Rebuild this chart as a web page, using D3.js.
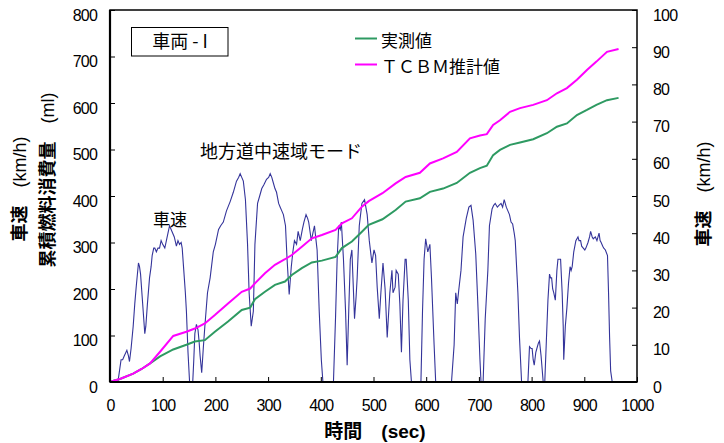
<!DOCTYPE html>
<html>
<head>
<meta charset="utf-8">
<script src="https://cdn.jsdelivr.net/npm/d3@7"></script>
<style>
  body { margin: 0; background: #fff; }
  svg text { font-family: "Liberation Sans", Arial, "Noto Sans CJK JP", sans-serif; }
  .jp { font-family: "Noto Sans CJK JP", sans-serif; }
</style>
</head>
<body>
<div id="chart"></div>
<script>
// Time axis for the cumulative fuel curves (sec)
const fuelTime = [0, 20, 44, 60, 76, 95, 120, 145, 161, 180, 199, 224, 250, 266, 275, 294, 313, 332, 345, 364,
  383, 402, 428, 440, 459, 478, 491, 517, 542, 561, 588, 607, 632, 658, 683, 702, 715, 727, 740, 759,
  778, 803, 829, 848, 867, 886, 905, 923, 943, 965];
// Measured cumulative fuel (ml)
const measuredFuel = [0, 7, 18, 28, 40, 55, 70, 80, 87, 90, 108, 130, 155, 160, 178, 194, 209, 216, 230, 245,
  257, 261, 269, 288, 302, 323, 338, 350, 370, 388, 395, 409, 416, 428, 450, 460, 465, 488, 499, 510,
  515, 522, 535, 549, 556, 574, 585, 596, 606, 611];
// TCBM estimated cumulative fuel (ml)
const tcbmFuel = [0, 7, 18, 28, 40, 65, 99, 108, 115, 126, 144, 169, 194, 201, 212, 234, 252, 264, 273, 291,
  309, 316, 327, 341, 352, 377, 389, 406, 427, 441, 450, 470, 481, 495, 524, 530, 533, 553, 563, 581,
  589, 596, 606, 621, 632, 650, 671, 689, 710, 716];

// Vehicle speed trace (sec, km/h)
const speedTime = [0, 8, 15, 18, 21, 24, 27, 32, 35, 37, 40, 44, 47, 50, 54, 56, 58, 61, 63, 66,
  68, 71, 75, 78, 80, 83, 85, 88, 91, 94, 97, 100, 104, 107, 110, 113, 116, 119, 122, 126,
  129, 132, 135, 137, 140, 143, 145, 148, 151, 157, 159, 161, 164, 167, 169, 171, 174, 177, 180, 185,
  190, 196, 200, 206, 210, 215, 221, 228, 234, 240, 244, 247, 250, 253, 257, 261, 264, 268, 272, 275,
  280, 284, 288, 292, 297, 301, 304, 307, 310, 313, 316, 320, 323, 326, 329, 333, 336, 340, 344, 347,
  350, 354, 357, 361, 365, 368, 372, 375, 377, 380, 382, 385, 388, 391, 393, 397, 401, 404, 424, 428,
  431, 434, 437, 439, 441, 443, 447, 450, 453, 456, 459, 461, 464, 467, 469, 473, 478, 483, 488, 492,
  497, 501, 504, 507, 511, 514, 518, 522, 526, 531, 535, 537, 541, 543, 547, 550, 553, 556, 560, 562,
  566, 569, 572, 590, 593, 596, 599, 603, 607, 610, 615, 618, 648, 653, 656, 659, 662, 666, 670, 676,
  681, 685, 689, 694, 698, 702, 704, 708, 712, 717, 720, 725, 728, 731, 735, 738, 742, 745, 748, 752,
  755, 758, 761, 764, 767, 769, 774, 777, 781, 793, 796, 799, 801, 803, 805, 808, 810, 813, 815, 818,
  822, 825, 828, 831, 834, 836, 838, 840, 842, 845, 848, 850, 855, 858, 860, 861, 864, 867, 870, 873,
  875, 877, 880, 884, 888, 890, 893, 895, 898, 901, 903, 907, 910, 912, 915, 917, 921, 924, 926, 928,
  930, 932, 935, 937, 940, 944, 946, 948, 950, 953, 960];
const speed = [0, 0.5, 0, 3, 6, 6, 7, 8.5, 7, 5.5, 9, 15, 21, 26, 32, 31, 29, 23, 19, 13,
  15, 21, 28, 31, 34, 36, 36, 35, 36, 36, 38, 37, 36, 38, 40, 42, 41, 40, 39, 36.5,
  38, 37, 37.5, 36, 30, 24, 19, 8, 0, 0, 6, 13, 15.5, 14, 11, 7, 2.5, 9, 15, 24,
  28, 35, 37, 41, 42, 43, 46, 48.5, 51, 54, 55, 56, 55, 54, 49, 37, 24, 15, 19, 37,
  48, 50, 52, 53, 54.5, 55, 56, 55, 53.5, 52, 51, 48, 47, 46, 45, 42, 33, 23.5, 31, 35,
  38, 37, 40.5, 38, 41, 43, 45, 44, 43, 40, 38, 40, 42, 38, 35.5, 19, 6, 0, 0, 17.5,
  33, 42, 41, 43, 38, 33, 19, 4.5, 19, 33, 35.5, 28, 17, 23, 28, 42, 48, 49, 45, 38,
  32, 35.5, 34, 25.5, 17, 24, 32, 25, 12, 24, 30, 24, 25.5, 30, 29, 21, 8, 22, 33, 33,
  22, 6, 0, 0, 19, 33, 38.5, 35, 37, 28, 10, 0, 0, 10, 24, 21, 25, 30, 39, 44,
  47, 47.5, 43.5, 34.5, 21, 6, 0, 0, 17, 30, 42, 46.5, 47.5, 48, 47, 47.5, 48, 47, 49, 47,
  46, 45, 43, 42.5, 40, 38, 24, 12, 0, 0, 9.5, 9, 9, 6, 4.5, 8, 9, 10.5, 11, 7,
  0, 0, 11, 22, 29, 28, 28, 25, 24, 22, 30, 33, 33, 24, 15, 6, 15, 20, 26.5, 31,
  30, 31, 35, 38, 39, 38, 38, 36.5, 36, 35.5, 36, 37.5, 39, 40.5, 39, 38.5, 39, 38, 39, 40,
  38, 37.5, 36.5, 36, 35.5, 34, 24, 12, 3, 0, 0];

const xTicks = [0, 100, 200, 300, 400, 500, 600, 700, 800, 900, 1000];
const fuelTicks = [0, 100, 200, 300, 400, 500, 600, 700, 800];
const speedTicks = [0, 10, 20, 30, 40, 50, 60, 70, 80, 90, 100];

const W = 724, H = 443;
const plot = {left: 110, right: 637, top: 10, bottom: 382};

const svg = d3.select("#chart").append("svg")
  .attr("width", W).attr("height", H);

const x = d3.scaleLinear().domain([0, 1000]).range([plot.left, plot.right]);
const yFuel = d3.scaleLinear().domain([0, 800]).range([plot.bottom, plot.top]);
const ySpeed = d3.scaleLinear().domain([0, 100]).range([plot.bottom, plot.top]);

// frame
svg.append("rect")
  .attr("x", plot.left).attr("y", plot.top)
  .attr("width", plot.right - plot.left).attr("height", plot.bottom - plot.top)
  .attr("fill", "none").attr("stroke", "#000").attr("stroke-width", 1.5);

// speed line
const speedData = speedTime.map((t, i) => [t, speed[i]]);
svg.append("path")
  .datum(speedData)
  .attr("fill", "none")
  .attr("stroke", "#34349a")
  .attr("stroke-width", 1.1)
  .attr("d", d3.line().x(d => x(d[0])).y(d => ySpeed(d[1])));

// fuel lines
const fuelLine = d3.line().x(d => x(d[0])).y(d => yFuel(d[1]));
svg.append("path")
  .datum(fuelTime.map((t, i) => [t, measuredFuel[i]]))
  .attr("fill", "none").attr("stroke", "#2e9a62").attr("stroke-width", 2)
  .attr("d", fuelLine);
svg.append("path")
  .datum(fuelTime.map((t, i) => [t, tcbmFuel[i]]))
  .attr("fill", "none").attr("stroke", "#ff00ff").attr("stroke-width", 2)
  .attr("d", fuelLine);

// axes
function styleAxis(g) {
  g.select(".domain").remove();
  g.selectAll("text").attr("fill", "#000").style("font-size", "16px")
    .style("font-family", "'Liberation Sans', Arial, sans-serif").style("letter-spacing", "-0.8px");
  g.selectAll("line").attr("stroke", "#000");
}
svg.append("g")
  .attr("transform", `translate(${plot.left},0)`)
  .call(d3.axisLeft(yFuel).tickValues(fuelTicks).tickFormat(d3.format("d")).tickSize(-5).tickPadding(13))
  .call(styleAxis)
  .selectAll("text").attr("y", 5);
svg.append("g")
  .attr("transform", `translate(${plot.right},0)`)
  .call(d3.axisRight(ySpeed).tickValues(speedTicks).tickFormat(d3.format("d")).tickSize(-5).tickPadding(16))
  .call(styleAxis)
  .selectAll("text").attr("y", 5);
svg.append("g")
  .attr("transform", `translate(0,${plot.bottom})`)
  .call(d3.axisBottom(x).tickValues(xTicks).tickFormat(d3.format("d")).tickSize(-5).tickPadding(18))
  .call(styleAxis);

// bottom & left axis lines drawn heavier
svg.append("line").attr("x1", plot.left).attr("x2", plot.right)
  .attr("y1", plot.bottom).attr("y2", plot.bottom).attr("stroke", "#000").attr("stroke-width", 2.2);
svg.append("line").attr("x1", plot.left).attr("x2", plot.left)
  .attr("y1", plot.top).attr("y2", plot.bottom).attr("stroke", "#000").attr("stroke-width", 2.2);

// axis titles
function vTitle(cx, cy, parts) {
  const t = svg.append("text")
    .attr("transform", `translate(${cx},${cy}) rotate(-90)`)
    .attr("text-anchor", "middle").attr("dy", "0.35em")
    .style("font-size", "18px");
  parts.forEach(p => t.append("tspan").attr("class", p.jp ? "jp" : null)
    .style("font-weight", p.bold ? "bold" : "normal").text(p.s));
}
vTitle(20, 189, [{s: "車速", jp: true, bold: true}, {s: "\u3000(km/h)"}]);
vTitle(48, 180, [{s: "累積燃料消費量", jp: true, bold: true}, {s: "\u3000(ml)"}]);
vTitle(704, 194, [{s: "車速", jp: true, bold: true}, {s: "\u3000(km/h)"}]);

const bt = svg.append("text").attr("x", 375).attr("y", 431).attr("dy", "0.35em")
  .attr("text-anchor", "middle").style("font-size", "19px");
bt.append("tspan").attr("class", "jp").style("font-weight", "bold").text("時間");
bt.append("tspan").style("font-weight", "bold").text("\u3000(sec)");

// vehicle label box
svg.append("rect").attr("x", 131.5).attr("y", 27.5).attr("width", 96.5).attr("height", 28.5)
  .attr("fill", "#fff").attr("stroke", "#000").attr("stroke-width", 1);
svg.append("text").attr("class", "jp").attr("x", 180).attr("y", 42).attr("dy", "0.35em")
  .attr("text-anchor", "middle").style("font-size", "18px").text("車両 - I");

// annotations
svg.append("text").attr("class", "jp").attr("x", 200).attr("y", 152).attr("dy", "0.35em")
  .style("font-size", "18px").text("地方道中速域モード");
svg.append("text").attr("class", "jp").attr("x", 153).attr("y", 220).attr("dy", "0.35em")
  .style("font-size", "17px").text("車速");

// legend
const legendItems = [
  {label: "実測値", color: "#2e9a62", y: 38.5},
  {label: "ＴＣＢＭ推計値", color: "#ff00ff", y: 64.5}
];
const lg = svg.append("g");
legendItems.forEach(d => {
  lg.append("line").attr("x1", 355).attr("x2", 377).attr("y1", d.y).attr("y2", d.y)
    .attr("stroke", d.color).attr("stroke-width", 2);
  lg.append("text").attr("class", "jp").attr("x", 381).attr("y", d.y + 3).attr("dy", "0.35em")
    .style("font-size", "17px").text(d.label);
});
</script>
</body>
</html>
